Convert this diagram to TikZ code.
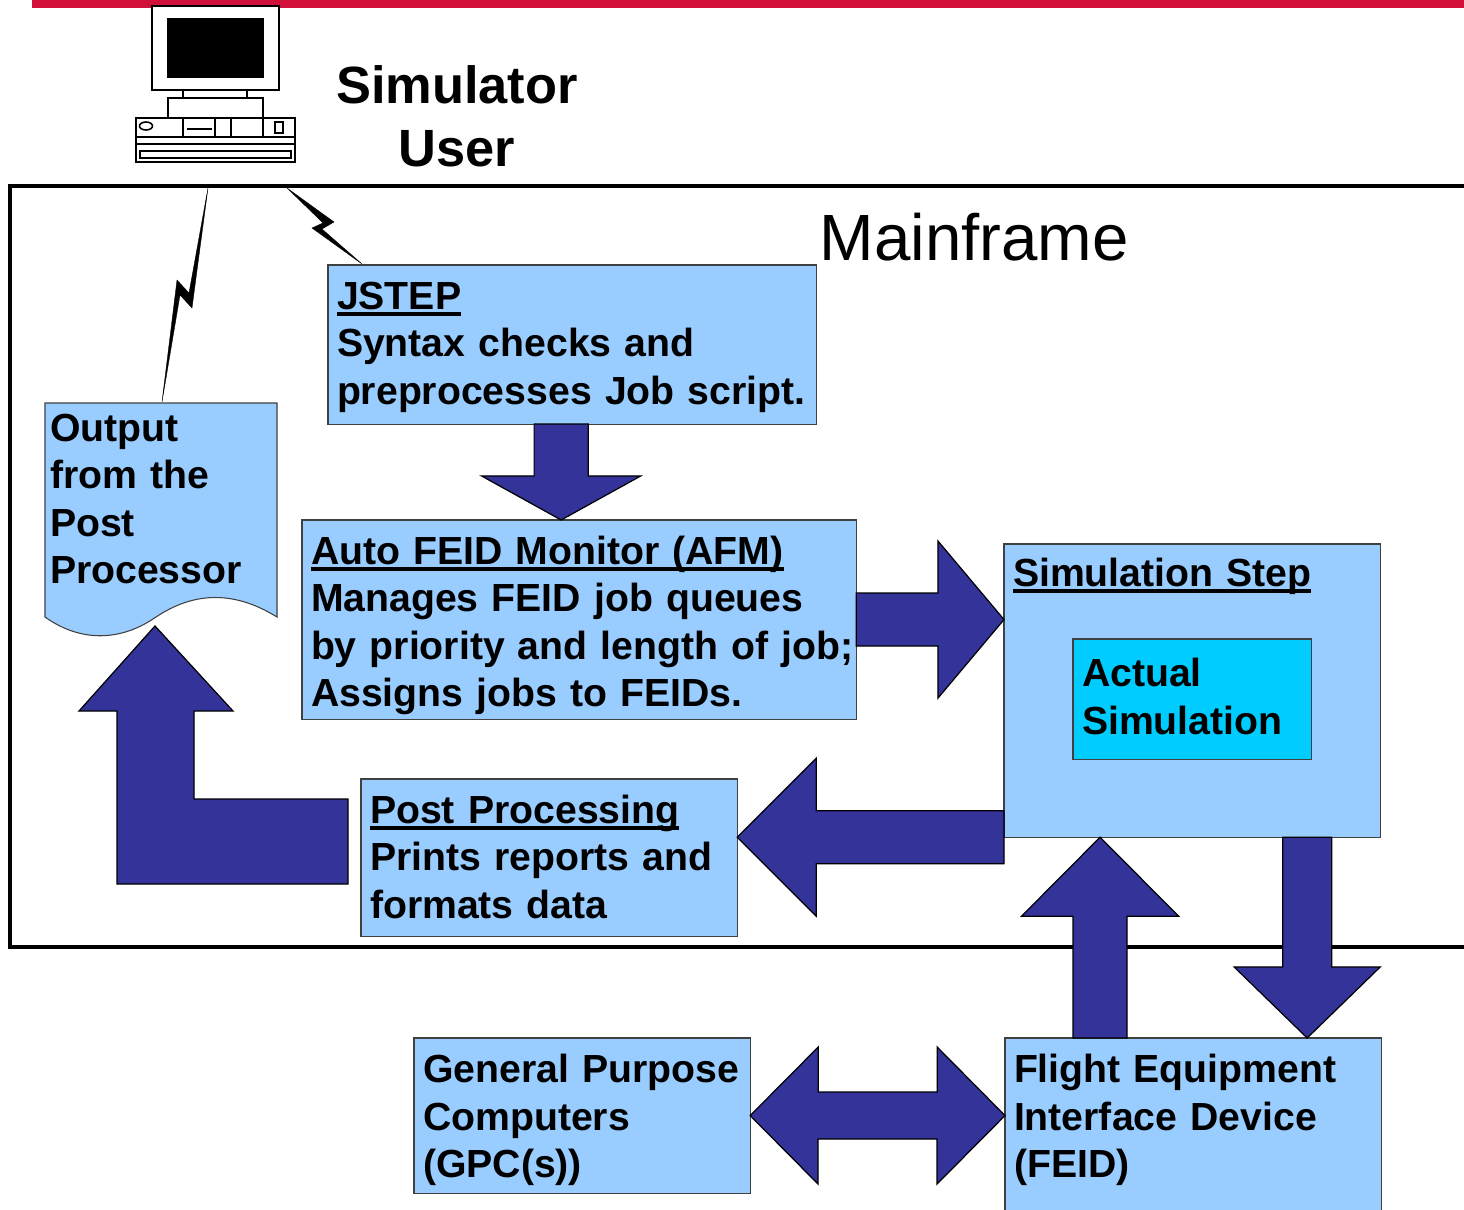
\documentclass[tikz,border=0pt]{standalone}
\usepackage{fontspec}
\setmainfont{Liberation Sans}
\usepackage{tikz}
\usetikzlibrary{calc}

\definecolor{boxblue}{HTML}{99CCFF}
\definecolor{innerblue}{HTML}{00CCFF}
\definecolor{flowblue}{HTML}{333399}
\definecolor{topred}{HTML}{D01038}

\newcommand{\headline}[1]{\setbox0=\hbox{#1}\rlap{\vrule width\wd0 height -0.85pt depth 1.8pt}\box0}

\newcommand{\blockarrow}[5]{%
\draw [flowarrow] ($(#1)!#3!-90:(#2)$) -- ($(#2)!#5!(#1)!#3!-90:(#2)$) -- ($(#2)!#5!(#1)!#4!-90:(#2)$)
	-- (#2) -- ($(#2)!#5!(#1)!#4!90:(#2)$) -- ($(#2)!#5!(#1)!#3!90:(#2)$) -- ($(#1)!#3!90:(#2)$) -- cycle;}

\begin{document}
\begin{tikzpicture}[x=0.01cm,y=-0.01cm,
	stepbox/.style={draw=black!75,line width=0.3pt,fill=boxblue,anchor=north west,align=left,outer sep=0pt,
		inner xsep=0.09cm,inner ysep=0pt,font=\bfseries\fontsize{11.15}{13.5}\selectfont},
	flowarrow/.style={draw=black,line width=0.35pt,fill=flowblue,line join=miter},
	pcpart/.style={draw=black,line width=0.45pt,fill=white},
	zigzag/.style={fill=black,draw=black,line width=0.1pt,line join=miter}]
\useasboundingbox (0,0) rectangle (1464,1209);

% background
\fill [topred] (32,0) rectangle (1464,8);
\draw [line width=1.1pt] (1480,186) -- (10,186) -- (10,947) -- (1480,947);

% computer
\draw [pcpart] (152,6) rectangle (279,90);
\draw [pcpart,fill=black] (168,19) rectangle (263,77);
\draw [pcpart] (183,90) rectangle (247,98);
\draw [pcpart] (168,98) rectangle (263,118);
\draw [pcpart] (136,118) rectangle (295,162);
\draw [pcpart] (140,151) rectangle (291,158);
\draw [pcpart] (275,122) rectangle (283,133);
\draw [pcpart] (146,126) ellipse (6.5 and 4);
\draw [line width=0.35pt] (136,137) -- (295,137);
\draw [line width=0.35pt] (136,144) -- (295,144);
\draw [line width=0.35pt] (187,129) -- (212,129);
\foreach \x in {183,215,231,263}
	\draw [line width=0.35pt] (\x,118) -- (\x,137);

% output page
\draw [draw=black!75,line width=0.3pt,fill=boxblue] (45,403) -- (277,403) -- (277,617)
	.. controls (235,591) and (195,591) .. (156,617) .. controls (120,642) and (80,642) .. (45,617) -- cycle;

\path (328,265) node [stepbox,text width=4.70cm,minimum height=1.59cm] (jstep) {\rule{0pt}{9.3pt}\headline{JSTEP}\\Syntax checks and\\\mbox{preprocesses Job script.}}
		(302,520) node [stepbox,text width=5.36cm,minimum height=1.99cm] (afm) {\rule{0pt}{11.5pt}\headline{Auto FEID Monitor (AFM)}\\Manages FEID job queues\\\mbox{by priority and length of job;}\\Assigns jobs to FEIDs.}
		(1004,544) node [stepbox,text width=3.58cm,minimum height=2.93cm] (simstep) {}
		(1073,639) node [stepbox,fill=innerblue,text width=2.20cm,minimum height=1.2cm] (actual) {Actual\\Simulation\rule[-1.5pt]{0pt}{0pt}}
		(361,779) node [stepbox,text width=3.58cm,minimum height=1.57cm] (post) {\headline{Post Processing}\\Prints reports and\\formats data\rule[-0.6pt]{0pt}{0pt}}
		(414,1038) node [stepbox,text width=3.18cm,minimum height=1.55cm] (gpc) {\rule{0pt}{10.7pt}\mbox{General Purpose}\\Computers\\(GPC(s))}
		(1005,1038) node [stepbox,text width=3.58cm,minimum height=1.8cm] (feid) {}
		(1005,1042.5) node [stepbox,draw=none,fill=none,text width=3.58cm,minimum height=1.55cm] (feidtext) {Flight Equipment\\Interface Device\\(FEID)}
		(1004,558) node [stepbox,draw=none,fill=none,text width=3.58cm] (simlabel) {\headline{Simulation Step}}
		(45,401.5) node [stepbox,draw=none,fill=none,inner xsep=0.05cm,text width=2.2cm,minimum height=1.95cm] (output) {Output\\from the\\Post\\Processor}
		(457,116) node [align=center,font=\bfseries\fontsize{14.9}{17.9}\selectfont] (user) {Simulator\\User}
		(819,212) node [anchor=north west,inner sep=0pt,font=\fontsize{18.6}{22}\selectfont] (mainframe) {Mainframe}
		;

% links to the computer
\coordinate (outlink) at (208,188);
\coordinate (outend) at (162,402);
\coordinate (joblink) at (287,188);
\coordinate (jobend) at (362,264);
\draw [zigzag] (outlink) -- (192,308) -- (180,295) -- (outend) -- (177,280) -- (189,293) -- cycle;
\draw [zigzag] (joblink) -- (334,222) -- (322,229) -- (jobend) -- (312,228) -- (323,223) -- cycle;

% flow
\blockarrow{[xshift=-0.11cm]jstep.south}{[xshift=-0.11cm]jstep.south |- afm.north}{0.27cm}{0.795cm}{0.44cm}
\blockarrow{afm.east}{afm.east -| simstep.west}{0.265cm}{0.785cm}{0.66cm}
\blockarrow{simstep.south west}{simstep.south west -| post.east}{0.265cm}{0.79cm}{0.79cm}
\blockarrow{[xshift=-0.93cm]feid.north}{[xshift=-0.93cm]feid.north |- simstep.south}{0.27cm}{0.785cm}{0.79cm}
\blockarrow{[xshift=1.15cm]simstep.south}{[xshift=1.15cm]simstep.south |- feid.north}{0.245cm}{0.73cm}{0.71cm}
\draw [flowarrow] (gpc.east) -- ++(68,-68.5) -- ++(0,45) -- ++(119,0) -- ++(0,-45) -- (gpc.east -| feid.west)
	-- ++(-68,68.5) -- ++(0,-45) -- ++(-119,0) -- ++(0,45) -- cycle;
\draw [flowarrow] (348,799) -- (194,799) -- (194,711) -- (233,711) -- (155,626) -- (79,711) -- (117,711) -- (117,884) -- (348,884) -- cycle;
\end{tikzpicture}
\end{document}
